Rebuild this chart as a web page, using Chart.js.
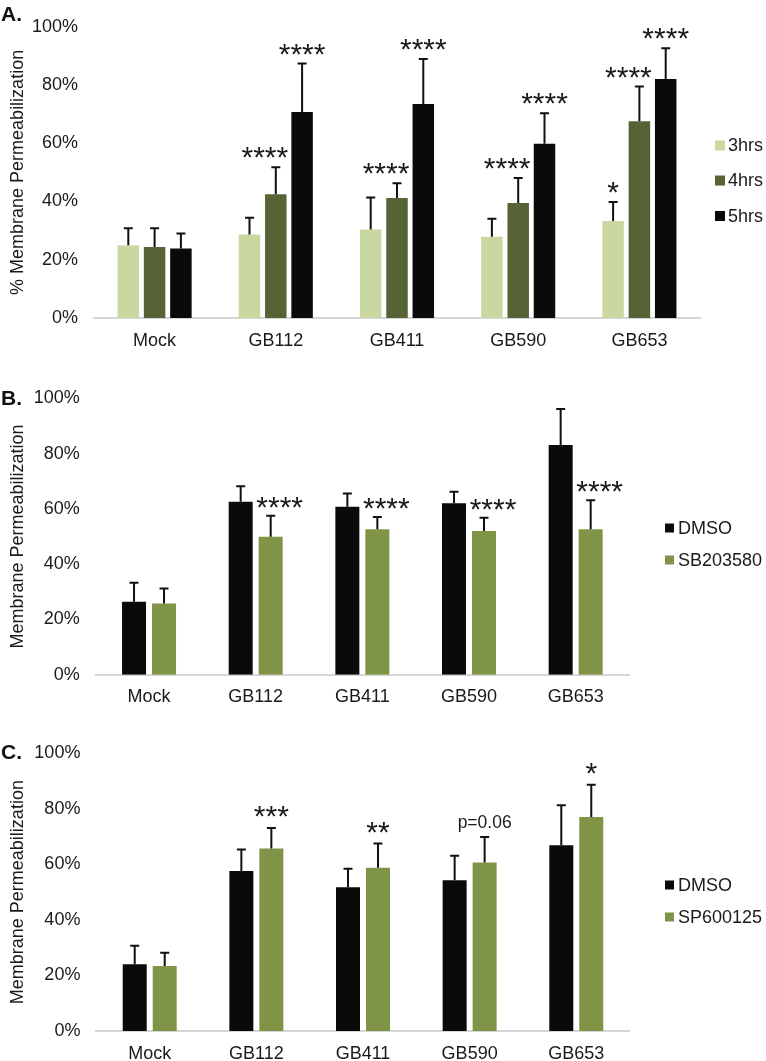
<!DOCTYPE html>
<html><head><meta charset="utf-8">
<script src="https://cdn.jsdelivr.net/npm/chart.js@4.4.1/dist/chart.umd.min.js"></script>
<style>
html,body{margin:0;padding:0;background:#fff;width:766px;height:1061px;overflow:hidden;font-family:"Liberation Sans",Arial,sans-serif;}
.panel{position:absolute;left:0;width:766px;}
.plabel{position:absolute;font-weight:bold;font-size:21px;color:#111;line-height:1;}
canvas{display:block;}
</style></head><body>
<div class="panel" style="top:0px;height:360px"><canvas id="cA" width="766" height="360" style="width:766px;height:360px"></canvas></div>
<div class="panel" style="top:370px;height:345px"><canvas id="cB" width="766" height="345" style="width:766px;height:345px"></canvas></div>
<div class="panel" style="top:720px;height:341px"><canvas id="cC" width="766" height="341" style="width:766px;height:341px"></canvas></div>
<div class="plabel" style="left:1px;top:3px">A.</div>
<div class="plabel" style="left:1px;top:387px">B.</div>
<div class="plabel" style="left:1px;top:741px">C.</div>
<script>
// ---------- DATA ----------
const categories = ["Mock", "GB112", "GB411", "GB590", "GB653"];
const yTicks = [0, 20, 40, 60, 80, 100];

// Panel A (% membrane permeabilization over time)
const a3hrs = [25.0, 28.7, 30.4, 27.9, 33.3];
const a3hrsErr = [5.8, 5.7, 11.0, 6.2, 6.5];
const a4hrs = [24.4, 42.5, 41.2, 39.5, 67.6];
const a4hrsErr = [6.4, 9.3, 5.1, 8.6, 11.9];
const a5hrs = [23.9, 70.7, 73.5, 59.8, 82.1];
const a5hrsErr = [5.1, 16.7, 15.4, 10.5, 10.5];
const a3hrsSig = ["", "", "", "", "*"];
const a4hrsSig = ["", "****", "****", "****", "****"];
const a5hrsSig = ["", "****", "****", "****", "****"];

// Panel B (DMSO vs SB203580)
const bDMSO = [26.4, 62.6, 60.8, 62.0, 83.1];
const bDMSOErr = [6.9, 5.6, 4.8, 4.2, 13.0];
const bSB = [25.8, 49.9, 52.6, 52.0, 52.6];
const bSBErr = [5.4, 7.6, 4.5, 4.8, 10.5];
const bSBSig = ["", "****", "****", "****", "****"];

// Panel C (DMSO vs SP600125)
const cDMSO = [24.0, 57.6, 51.8, 54.3, 66.9];
const cDMSOErr = [6.7, 7.8, 6.6, 8.8, 14.4];
const cSP = [23.4, 65.7, 58.8, 60.7, 77.1];
const cSPErr = [4.8, 7.4, 8.7, 9.2, 11.6];
const cSPSig = ["", "***", "**", "p=0.06", "*"];

// ---------- STYLE ----------
const FONT = '"Liberation Sans", Arial, sans-serif';
const COL_3H = '#c9d8a0', COL_4H = '#566334', COL_5H = '#0a0a0a';
const COL_DMSO = '#0a0a0a', COL_GREEN = '#7f9447';

const errPlugin = {
  id: 'errbars',
  afterDatasetsDraw(chart, args, o) {
    const ctx = chart.ctx, ys = chart.scales.y;
    chart.data.datasets.forEach((ds, di) => {
      const meta = chart.getDatasetMeta(di);
      meta.data.forEach((bar, i) => {
        const top = ys.getPixelForValue(ds.data[i] + ds.errors[i]);
        ctx.save();
        ctx.strokeStyle = '#111'; ctx.lineWidth = 2; ctx.lineCap = 'butt';
        ctx.beginPath();
        ctx.moveTo(bar.x, bar.y); ctx.lineTo(bar.x, top);
        ctx.moveTo(bar.x - o.cap / 2, top); ctx.lineTo(bar.x + o.cap / 2, top);
        ctx.stroke();
        const s = ds.sig ? ds.sig[i] : '';
        if (s) {
          ctx.fillStyle = '#1a1a1a';
          ctx.textAlign = 'center';
          ctx.textBaseline = 'alphabetic';
          const dx = ds.sigDx || 0;
          if (/^\*+$/.test(s)) {
            const fs = 30;
            ctx.font = fs + 'px ' + FONT;
            ctx.fillText(s, bar.x + dx, top - o.starGap + 0.57 * fs);
          } else {
            const fs = 17.5;
            ctx.font = fs + 'px ' + FONT;
            ctx.fillText(s, bar.x, top - o.textGap + 0.36 * fs);
          }
        }
        ctx.restore();
      });
    });
  }
};

const legendPlugin = {
  id: 'customLegend',
  afterDraw(chart, args, o) {
    const ctx = chart.ctx;
    chart.data.datasets.forEach((ds, i) => {
      const yc = o.y[i];
      ctx.save();
      ctx.fillStyle = ds.backgroundColor;
      ctx.fillRect(o.boxX, yc - o.box / 2, o.box, o.box);
      ctx.fillStyle = '#1a1a1a';
      ctx.font = '18px ' + FONT;
      ctx.textAlign = 'left';
      ctx.textBaseline = 'middle';
      ctx.fillText(ds.label, o.textX, yc + 1);
      ctx.restore();
    });
  }
};

function makeChart(id, datasets, cfg) {
  return new Chart(document.getElementById(id), {
    type: 'bar',
    data: { labels: categories, datasets: datasets },
    options: {
      responsive: false,
      animation: false,
      devicePixelRatio: 1,
      layout: { padding: { top: cfg.padTop, right: cfg.padRight, left: 0, bottom: 0 } },
      datasets: { bar: { categoryPercentage: cfg.catPct, barPercentage: cfg.barPct } },
      plugins: {
        legend: { display: false },
        tooltip: { enabled: false },
        errbars: { cap: 9, starGap: cfg.starGap, textGap: 15 },
        customLegend: cfg.legend
      },
      scales: {
        x: {
          grid: { display: false, drawTicks: false },
          border: { display: true, color: '#d6d6d6', width: 2 },
          ticks: { color: '#1a1a1a', font: { family: FONT, size: 18 }, padding: 12 },
          afterFit(s) { s.height = cfg.xHeight; }
        },
        y: {
          min: 0, max: 100,
          afterBuildTicks(s) { s.ticks = yTicks.map(v => ({ value: v })); },
          grid: { display: false, drawTicks: false },
          border: { display: false },
          ticks: { color: '#1a1a1a', font: { family: FONT, size: 18 }, padding: 16,
                   callback: v => v + '%' },
          title: { display: true, text: cfg.yTitle, color: '#1a1a1a',
                   font: { family: FONT, size: 18 }, padding: { top: 7, bottom: 0 } },
          afterFit(s) { s.width = cfg.yWidth; }
        }
      }
    },
    plugins: [errPlugin, legendPlugin]
  });
}

makeChart('cA', [
  { label: '3hrs', data: a3hrs, errors: a3hrsErr, sig: a3hrsSig, backgroundColor: COL_3H },
  { label: '4hrs', data: a4hrs, errors: a4hrsErr, sig: a4hrsSig, sigDx: -11, backgroundColor: COL_4H },
  { label: '5hrs', data: a5hrs, errors: a5hrsErr, sig: a5hrsSig, backgroundColor: COL_5H }
], { padTop: 26, padRight: 66, yWidth: 94, xHeight: 42, catPct: 0.651, barPct: 0.817,
     starGap: 17, yTitle: '% Membrane Permeabilization',
     legend: { boxX: 715, box: 10, textX: 728, y: [145.5, 180.5, 216] } });

makeChart('cB', [
  { label: 'DMSO', data: bDMSO, errors: bDMSOErr, backgroundColor: COL_DMSO },
  { label: 'SB203580', data: bSB, errors: bSBErr, sig: bSBSig, sigDx: 9, backgroundColor: COL_GREEN }
], { padTop: 28.3, padRight: 137, yWidth: 95.7, xHeight: 40.3, catPct: 0.5625, barPct: 0.8,
     starGap: 16, yTitle: 'Membrane Permeabilization',
     legend: { boxX: 665, box: 9, textX: 678, y: [158, 190] } });

makeChart('cC', [
  { label: 'DMSO', data: cDMSO, errors: cDMSOErr, backgroundColor: COL_DMSO },
  { label: 'SP600125', data: cSP, errors: cSPErr, sig: cSPSig, backgroundColor: COL_GREEN }
], { padTop: 33.3, padRight: 136.4, yWidth: 96.4, xHeight: 30, catPct: 0.5625, barPct: 0.8,
     starGap: 19, yTitle: 'Membrane Permeabilization',
     legend: { boxX: 665, box: 9, textX: 678, y: [165, 197] } });
</script>
</body></html>
